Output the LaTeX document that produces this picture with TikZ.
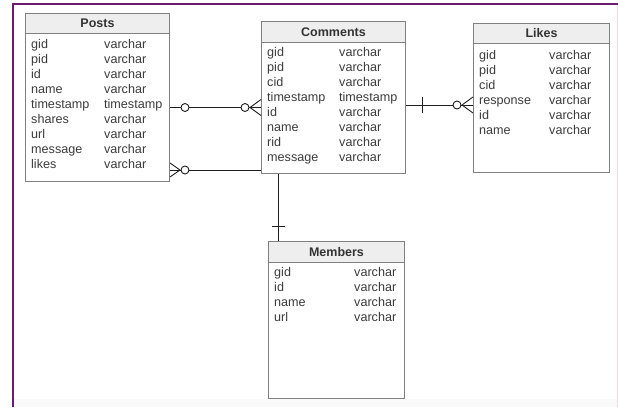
\documentclass[tikz,border=0pt]{standalone}
\usepackage{fontspec}
\setmainfont{Liberation Sans}
\usepackage{xcolor}
\usepackage{tikz}
\usetikzlibrary{calc,positioning}
\definecolor{framex}{HTML}{6E1A6E}
\definecolor{framelt}{HTML}{F3D6EE}
\definecolor{edgex}{HTML}{808080}
\definecolor{headbg}{HTML}{EEEEEE}
\definecolor{textx}{HTML}{3C3C3C}
\definecolor{relx}{HTML}{1E1E1E}
\tikzset{
  tbl/.style={draw=edgex,line width=1pt,fill=white,anchor=north west,inner sep=0pt},
  tblhead/.style={draw=edgex,line width=1pt,fill=headbg,anchor=north west,inner sep=0pt,
    font=\fontsize{12.5}{15}\selectfont\bfseries,text=black!80},
  rows/.style={anchor=base west,inner sep=0pt,font=\fontsize{12.6}{15}\selectfont,text=textx},
  rel/.style={relx,line width=0.9pt},
  ring/.style={relx,line width=0.9pt,fill=white}
}

\begin{document}
\begin{tikzpicture}[x=1pt,y=-1pt]
\useasboundingbox (0,0) rectangle (618,407);
% page frame
\fill[black!2] (14,399) rectangle (617,407);
\draw[framelt,line width=1pt] (617,4) -- (617,407);
\draw[framex,line width=1.4pt] (13,407) -- (13,4) -- (618,4);

% tables
\node[tbl,minimum width=144pt,minimum height=168pt] (posts) at (25,13) {};
\node[tblhead,minimum width=144pt,minimum height=20pt] (postsH) at (posts.north west) {Posts};
\node[rows] (postsR) at (31,48.4) {\begin{tabular}[t]{@{}p{73pt}@{}l@{}}
gid & varchar\\ pid & varchar\\ id & varchar\\ name & varchar\\
timestamp & timestamp\\ shares & varchar\\ url & varchar\\
message & varchar\\ likes & varchar\end{tabular}};

\node[tbl,minimum width=144pt,minimum height=152pt] (comments) at (261,21) {};
\node[tblhead,minimum width=144pt,minimum height=21pt] (commentsH) at (comments.north west) {Comments};
\node[rows] (commentsR) at (267,56.4) {\begin{tabular}[t]{@{}p{72pt}@{}l@{}}
gid & varchar\\ pid & varchar\\ cid & varchar\\ timestamp & timestamp\\
id & varchar\\ name & varchar\\ rid & varchar\\ message & varchar\end{tabular}};

\node[tbl,minimum width=136pt,minimum height=149pt] (likes) at (473,23) {};
\node[tblhead,minimum width=136pt,minimum height=20pt] (likesH) at (likes.north west) {Likes};
\node[rows] (likesR) at (479,59.9) {\begin{tabular}[t]{@{}p{70pt}@{}l@{}}
gid & varchar\\ pid & varchar\\ cid & varchar\\ response & varchar\\
id & varchar\\ name & varchar\end{tabular}};

\node[tbl,minimum width=136pt,minimum height=157pt] (members) at (268,241) {};
\node[tblhead,minimum width=136pt,minimum height=21pt] (membersH) at (members.north west) {Members};
\node[rows] (membersR) at (274,276.4) {\begin{tabular}[t]{@{}p{80pt}@{}l@{}}
gid & varchar\\ id & varchar\\ name & varchar\\ url & varchar\end{tabular}};

% Posts -- Comments (timestamp)
\draw[rel] (posts.east |- 0,107.5) -- (comments.west |- 0,107.5);
\draw[rel] (250,107.5) -- (comments.west |- 0,99.5) (250,107.5) -- (comments.west |- 0,115.5);
\draw[ring] (185,107.5) circle (4) (245,107.5) circle (4);

% Posts -- Comments (likes)
\draw[rel] (posts.east |- 0,170) -- (comments.west |- 0,170);
\draw[rel] (180,170) -- (posts.east |- 0,163) (180,170) -- (posts.east |- 0,177);
\draw[ring] (185,170) circle (4);

% Comments -- Likes
\draw[rel] (comments.east |- 0,105) -- (likes.west |- 0,105);
\draw[rel] (422,97) -- (422,113);
\draw[rel] (462,105) -- (likes.west |- 0,97) (462,105) -- (likes.west |- 0,113);
\draw[ring] (457,105) circle (4);

% Comments -- Members
\draw[rel] (comments.south west -| 278,0) -- (members.north west -| 278,0);
\draw[rel] (272,226) -- (285,226);
\end{tikzpicture}
\end{document}
